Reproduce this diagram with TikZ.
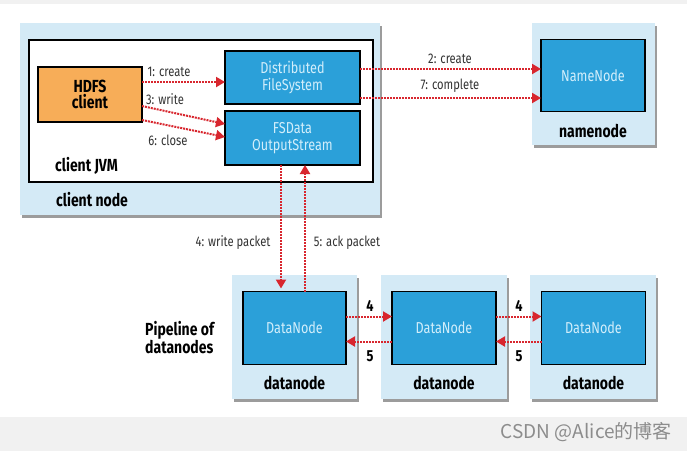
\documentclass[tikz,border=0pt]{standalone}
\usepackage{fontspec}
\setmainfont{Fira Sans}[FakeStretch=0.8]
\newfontfamily\cjk{Noto Sans CJK SC}
\usetikzlibrary{arrows.meta,calc,shadows}
\definecolor{lightbox}{HTML}{D4EAF6}
\definecolor{darkbox}{HTML}{2BA0D9}
\definecolor{orangebox}{HTML}{F7AD58}
\definecolor{arrred}{HTML}{D8262E}
\definecolor{intext}{HTML}{D2EEFB}
\definecolor{lbltext}{HTML}{333333}
\definecolor{bandgray}{HTML}{F1F1F1}
\begin{document}
\begin{tikzpicture}[x=1pt,y=-1pt,
  outerbox/.style={rectangle, fill=lightbox, inner sep=0pt, outer sep=0pt, anchor=north west,
     drop shadow={shadow xshift=2pt, shadow yshift=-3pt, fill=black!55, opacity=0.7}},
  jvmbox/.style={rectangle, fill=white, draw=black, line width=1.4pt, inner sep=0pt, outer sep=0pt, anchor=north west},
  darkbx/.style={rectangle, fill=darkbox, draw=black, line width=1.7pt, inner sep=0pt, outer sep=0pt,
     text=intext, align=center, font=\fontsize{15.8}{17}\selectfont},
  orangebx/.style={rectangle, fill=orangebox, draw=black, line width=1.7pt, inner sep=0pt, outer sep=0pt,
     text=black, align=center, font=\bfseries\fontsize{17.5}{16}\selectfont},
  lbl/.style={text=lbltext, inner sep=1pt, font=\fontsize{14}{14}\selectfont},
  blbl/.style={text=black, inner sep=1pt, font=\bfseries\fontsize{17.5}{18}\selectfont},
  numlbl/.style={text=black, inner sep=1pt, font=\bfseries\fontsize{16}{16}\selectfont},
  arr/.style={draw=arrred, line width=2pt, densely dotted, -{Triangle[length=9pt,width=10pt]}}
]
\useasboundingbox (0,0) rectangle (687,451);
\fill[white] (0,0) rectangle (687,451);
\fill[bandgray] (0,0) rectangle (687,4);
\fill[bandgray] (0,417) rectangle (687,451);

% client node
\node[outerbox, minimum width=360pt, minimum height=192pt] (cn) at (20,23) {};
\node[jvmbox, minimum width=344pt, minimum height=142pt] (jvm) at (29,40) {};
\node[orangebx, minimum width=104pt, minimum height=55pt] (hdfs) at (90,94.5) {HDFS\\client};
\node[darkbx, minimum width=135pt, minimum height=53pt] (dfs) at (292.5,77.5) {Distributed\\FileSystem};
\node[darkbx, minimum width=135pt, minimum height=54pt] (fs) at (292.5,138) {FSData\\OutputStream};
\node[blbl, anchor=west] (jvml) at (54,166) {client JVM};
\node[blbl, anchor=west] (cnl) at (55,200) {client node};

% namenode
\node[outerbox, minimum width=123pt, minimum height=122pt] (nnbox) at (532,23) {};
\node[darkbx, minimum width=104pt, minimum height=72pt] (nn) at (593,75.5) {NameNode};
\node[blbl] (nnl) at (593,131) {namenode};

% datanodes
\node[outerbox, minimum width=125pt, minimum height=124pt] (dnb1) at (232,275) {};
\node[outerbox, minimum width=126pt, minimum height=124pt] (dnb2) at (381,275) {};
\node[outerbox, minimum width=126pt, minimum height=124pt] (dnb3) at (530,275) {};
\node[darkbx, minimum width=103pt, minimum height=73pt] (dn1) at (294.5,328) {DataNode};
\node[darkbx, minimum width=104pt, minimum height=73pt] (dn2) at (444,328) {DataNode};
\node[darkbx, minimum width=104pt, minimum height=73pt] (dn3) at (593.5,328) {DataNode};
\node[blbl] (dnl1) at (294.5,383) {datanode};
\node[blbl] (dnl2) at (444,383) {datanode};
\node[blbl] (dnl3) at (593.5,383) {datanode};
\node[blbl, align=left, anchor=west] (pipe) at (144,338) {Pipeline of\\datanodes};

% client arrows
\draw[arr] ([yshift=-15pt]hdfs.north east) -- ([yshift=-15pt]hdfs.north east -| dfs.west);
\draw[arr] ([yshift=-39pt]hdfs.north east) -- ([yshift=-13pt]fs.north west);
\draw[arr] ([yshift=-53pt]hdfs.north east) -- ([yshift=-26pt]fs.north west);
\node[lbl] (l1) at (169,72) {1: create};
\node[lbl] (l3) at (165,99) {3: write};
\node[lbl] (l6) at (168,140) {6: close};

% namenode arrows
\draw[arr] ([yshift=-18pt]dfs.north east) -- ([yshift=-18pt]dfs.north east -| nn.west);
\draw[arr] ([yshift=6pt]dfs.south east) -- ([yshift=6pt]dfs.south east -| nn.west);
\node[lbl] (l2) at (450,59) {2: create};
\node[lbl] (l7) at (450,86) {7: complete};

% packet arrows
\draw[arr, shorten >=3pt] ([xshift=56pt]fs.south west) -- ([xshift=56pt]fs.south west |- dn1.north);
\draw[arr] ([xshift=80pt]fs.south west |- dn1.north) -- ([xshift=80pt]fs.south west);
\node[lbl] (l4) at (233,243) {4: write packet};
\node[lbl] (l5) at (347,243) {5: ack packet};

% pipeline arrows
\draw[arr] ([yshift=-25pt]dn1.north east) -- ([yshift=-25pt]dn1.north east -| dn2.west);
\draw[arr] ([yshift=-50pt]dn2.north west) -- ([yshift=-50pt]dn2.north west -| dn1.east);
\draw[arr] ([yshift=-25pt]dn2.north east) -- ([yshift=-25pt]dn2.north east -| dn3.west);
\draw[arr] ([yshift=-50pt]dn3.north west) -- ([yshift=-50pt]dn3.north west -| dn2.east);
\node[numlbl] (n4a) at (370,306) {4};
\node[numlbl] (n5a) at (370,356) {5};
\node[numlbl] (n4b) at (519,306) {4};
\node[numlbl] (n5b) at (519,356) {5};

% watermark
\node[text=black!45, inner sep=0pt, anchor=east, font=\cjk\fontsize{19}{19}\selectfont] (wm) at (672,432) {CSDN @Alice的博客};
\end{tikzpicture}
\end{document}
